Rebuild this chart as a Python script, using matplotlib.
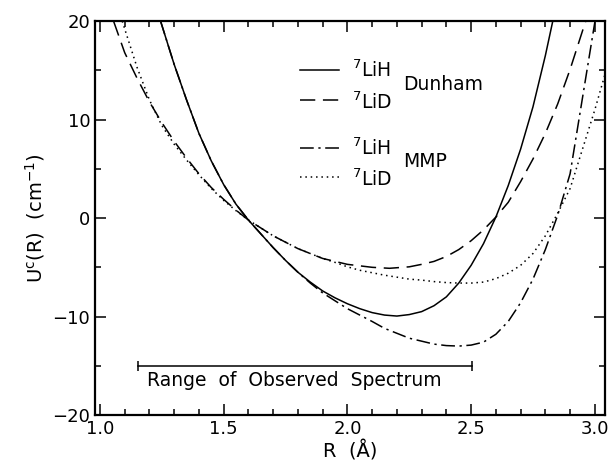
import matplotlib
matplotlib.use('Agg')
import matplotlib.pyplot as plt
import matplotlib.ticker as tick

plt.rcParams['font.family'] = 'DejaVu Sans'
plt.rcParams['mathtext.default'] = 'regular'

# values
# 7LiH, Dunham
r_lih_dun = [1.245, 1.30, 1.35, 1.40, 1.45, 1.50, 1.55, 1.60, 1.65, 1.70, 1.75, 1.80,
             1.85, 1.90, 1.95, 2.00, 2.05, 2.10, 2.15, 2.20, 2.25, 2.30, 2.35, 2.40,
             2.45, 2.50, 2.55, 2.60, 2.65, 2.70, 2.75, 2.80, 2.83]
u_lih_dun = [20.0, 15.6, 12.0, 8.6, 5.8, 3.4, 1.4, -0.2, -1.6, -3.0, -4.3, -5.5,
             -6.5, -7.4, -8.1, -8.7, -9.2, -9.6, -9.85, -9.95, -9.8, -9.5, -8.9, -8.0,
             -6.6, -4.8, -2.6, 0.1, 3.3, 7.0, 11.3, 16.5, 20.0]

# 7LiD, Dunham
r_lid_dun = [1.055, 1.10, 1.15, 1.20, 1.25, 1.30, 1.35, 1.40, 1.45, 1.50, 1.55, 1.60,
             1.70, 1.80, 1.90, 2.00, 2.10, 2.17, 2.25, 2.30, 2.35, 2.40, 2.45, 2.50,
             2.55, 2.60, 2.65, 2.70, 2.75, 2.80, 2.85, 2.90, 2.95, 2.963]
u_lid_dun = [20.0, 16.8, 14.2, 11.8, 9.7, 7.8, 6.1, 4.5, 3.1, 1.9, 0.8, -0.2,
             -1.8, -3.1, -4.1, -4.7, -5.0, -5.1, -4.95, -4.7, -4.4, -3.9, -3.2, -2.3,
             -1.2, 0.1, 1.6, 3.7, 6.0, 8.6, 11.6, 15.1, 19.0, 20.0]

# 7LiH, MMP
r_lih_mmp = [1.245, 1.30, 1.35, 1.40, 1.45, 1.50, 1.55, 1.60, 1.65, 1.70, 1.75, 1.80,
             1.85, 1.90, 1.95, 2.00, 2.05, 2.10, 2.15, 2.20, 2.25, 2.30, 2.35, 2.40,
             2.45, 2.50, 2.55, 2.60, 2.65, 2.70, 2.75, 2.80, 2.85, 2.90, 2.95, 3.00]
u_lih_mmp = [20.0, 15.6, 12.0, 8.6, 5.8, 3.4, 1.4, -0.2, -1.6, -3.0, -4.3, -5.5,
             -6.6, -7.6, -8.4, -9.2, -9.85, -10.5, -11.2, -11.7, -12.2, -12.5, -12.8, -12.95,
             -13.0, -12.9, -12.6, -11.8, -10.5, -8.6, -6.2, -3.2, 0.3, 4.5, 12.2, 19.9]

# 7LiD, MMP
r_lid_mmp = [1.09, 1.15, 1.20, 1.25, 1.30, 1.35, 1.40, 1.45, 1.50, 1.55, 1.60, 1.70,
             1.80, 1.90, 1.95, 2.00, 2.05, 2.10, 2.15, 2.20, 2.25, 2.30, 2.35, 2.40,
             2.45, 2.50, 2.55, 2.60, 2.65, 2.70, 2.75, 2.80, 2.85, 2.90, 2.95, 3.00, 3.04]
u_lid_mmp = [20.0, 15.3, 12.0, 9.4, 7.5, 5.9, 4.4, 3.0, 1.8, 0.75, -0.2, -1.8,
             -3.1, -4.1, -4.5, -4.95, -5.3, -5.55, -5.8, -6.0, -6.2, -6.3, -6.45, -6.55,
             -6.6, -6.6, -6.5, -6.15, -5.6, -4.8, -3.6, -1.8, 0.5, 3.0, 7.0, 11.0, 14.5]

range_r = [1.155, 2.505]
range_u = [-15.0, -15.0]


def main():
    px = 1 / 100
    fig = plt.figure(figsize=(609 * px, 470 * px), dpi=100)
    ax = fig.add_axes([0.156, 0.117, 0.837, 0.838])

    lw = 1.1
    ax.plot(r_lih_dun, u_lih_dun, color='black', lw=lw, linestyle='solid')
    ax.plot(r_lid_dun, u_lid_dun, color='black', lw=lw, linestyle=(0, (10, 5)))
    ax.plot(r_lih_mmp, u_lih_mmp, color='black', lw=lw, linestyle=(0, (9, 3, 1.5, 3)))
    ax.plot(r_lid_mmp, u_lid_mmp, color='black', lw=lw, linestyle=(0, (1, 2.5)))

    # range of observed spectrum
    ax.plot(range_r, range_u, color='black', lw=1.1)
    ax.plot(range_r, range_u, color='black', lw=0, marker='|', markersize=7, mew=1.1)
    ax.text(1.19, -16.5, 'Range  of  Observed  Spectrum', fontsize=13.5, va='center', ha='left')

    # hand-made legend
    ax.plot([1.81, 1.965], [15.0, 15.0], color='black', lw=lw, linestyle='solid')
    ax.plot([1.81, 1.965], [12.0, 12.0], color='black', lw=lw, linestyle=(0, (10, 5)))
    ax.plot([1.81, 1.965], [7.1, 7.1], color='black', lw=lw, linestyle=(0, (9, 3, 1.5, 3)))
    ax.plot([1.81, 1.965], [4.2, 4.2], color='black', lw=lw, linestyle=(0, (1, 2.5)))
    ax.text(2.02, 15.0, r'$^{7}$LiH', fontsize=13.5, va='center')
    ax.text(2.02, 11.8, r'$^{7}$LiD', fontsize=13.5, va='center')
    ax.text(2.02, 7.1, r'$^{7}$LiH', fontsize=13.5, va='center')
    ax.text(2.02, 3.9, r'$^{7}$LiD', fontsize=13.5, va='center')
    ax.text(2.226, 13.6, 'Dunham', fontsize=13.5, va='center')
    ax.text(2.226, 5.7, 'MMP', fontsize=13.5, va='center')

    ax.set_xlim(0.98, 3.04)
    ax.set_ylim(-20, 20)
    ax.xaxis.set_major_locator(tick.MultipleLocator(0.5))
    ax.xaxis.set_minor_locator(tick.MultipleLocator(0.1))
    ax.yaxis.set_major_locator(tick.MultipleLocator(10))
    ax.yaxis.set_minor_locator(tick.MultipleLocator(5))
    ax.xaxis.set_major_formatter(tick.FormatStrFormatter('%.1f'))
    ax.tick_params(which='both', direction='in', top=True, right=True, labelsize=13, width=1.1)
    ax.tick_params(which='major', length=8)
    ax.tick_params(which='minor', length=4)
    for s in ax.spines.values():
        s.set_linewidth(1.6)

    ax.set_xlabel('R  (Å)', fontsize=14, labelpad=2)
    ax.set_ylabel(r'U$^{c}$(R)  (cm$^{-1}$)', fontsize=14, labelpad=4)

    fig.savefig('out.png', dpi=100)


if __name__ == '__main__':
    main()
